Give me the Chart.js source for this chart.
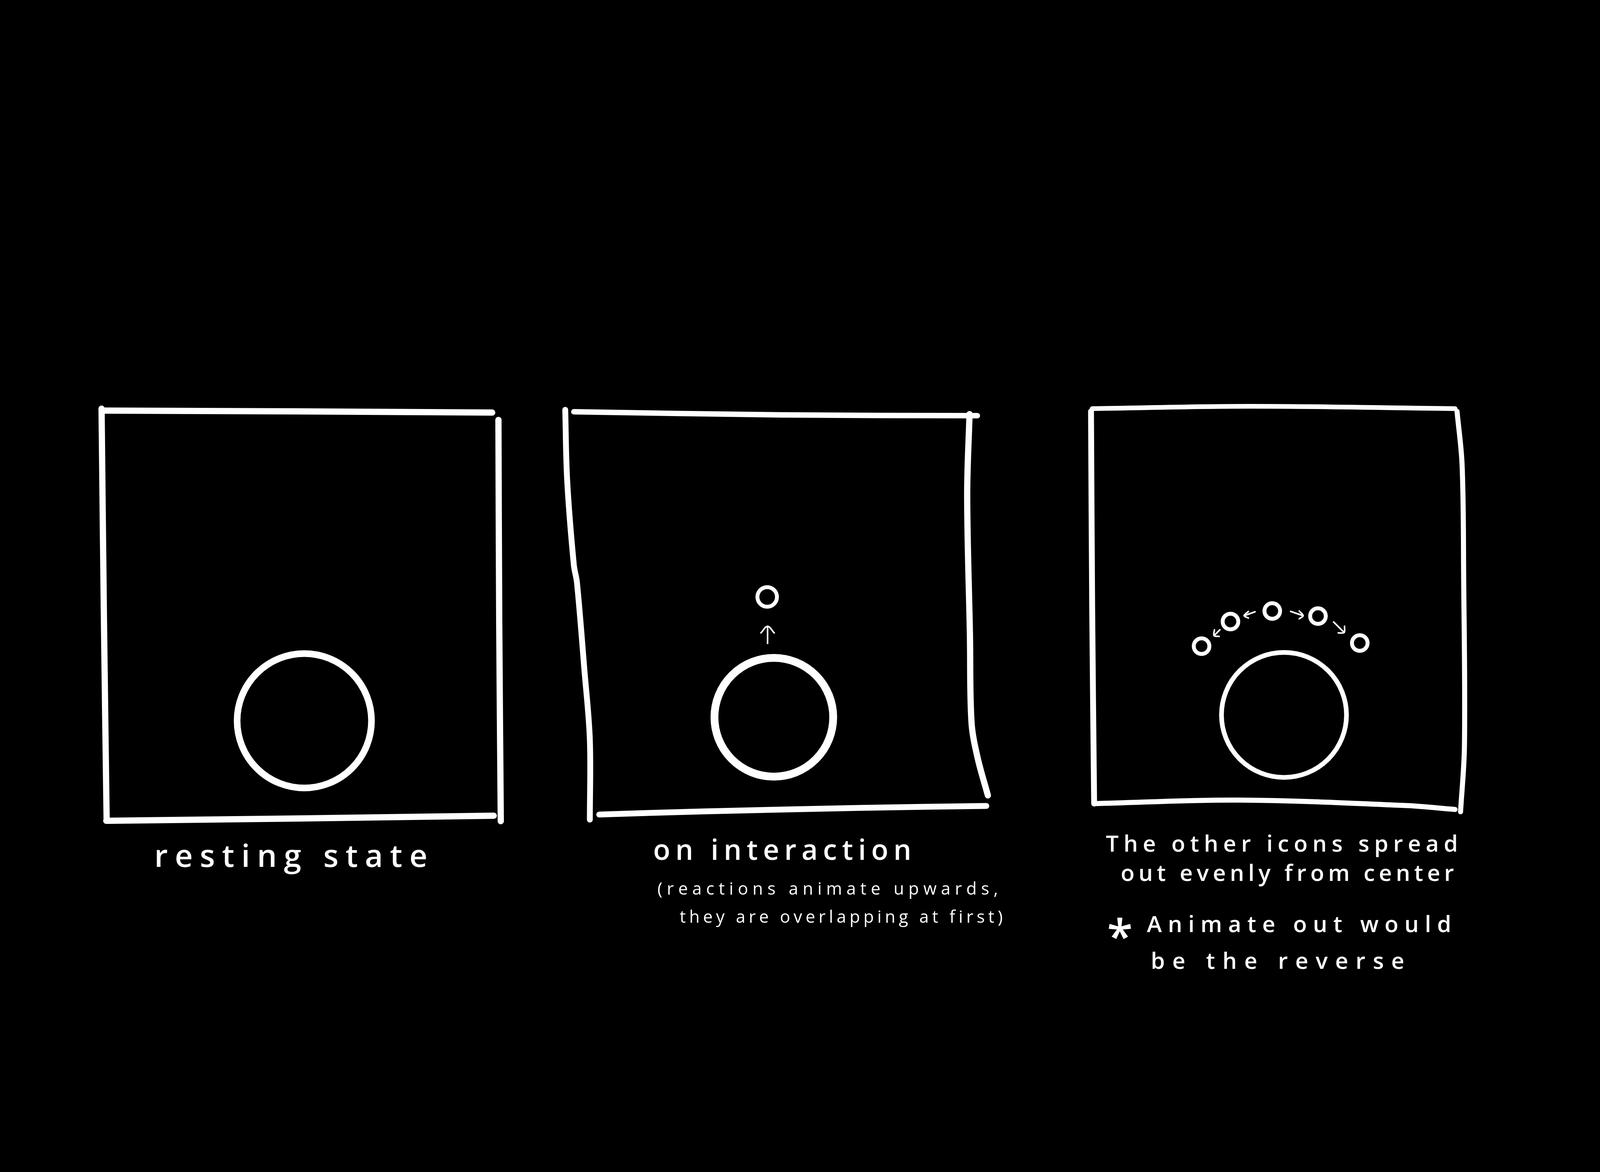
<!DOCTYPE html>
<html>
<head>
<meta charset="utf-8">
<script src="https://cdn.jsdelivr.net/npm/chart.js@4"></script>
<style>
html,body{margin:0;padding:0;background:#000;overflow:hidden;}
canvas{display:block;}
</style>
</head>
<body>
<canvas id="c" width="4200" height="3000"></canvas>
<script>
// ---- stroke data (sketch coordinates) ----
const box1Left   = [[260,1046],[266,1580],[273,2100]];
const box1Top    = [[269,1051],[760,1053],[1260,1056]];
const box1Right  = [[1276,1075],[1278,1590],[1282,2102]];
const box1Bottom = [[272,2101],[770,2095],[1264,2088]];

const box2Left   = [[1447,1049],[1452,1230],[1469,1446],[1477,1491],[1496,1714],[1510,1893],[1510,2098]];
const box2Top    = [[1469,1054],[2000,1062],[2502,1064]];
const box2Right  = [[2482,1060],[2476,1268],[2483,1625],[2487,1848],[2502,1937],[2529,2036]];
const box2Bottom = [[1534,2085],[1800,2077],[2200,2068],[2525,2063]];

const box3Left   = [[2793,1053],[2796,1560],[2801,2057]];
const box3Top    = [[2796,1046],[3200,1040],[3725,1046]];
const box3Right  = [[3730,1053],[3743,1191],[3747,1478],[3749,1909],[3739,2078]];
const box3Bottom = [[2801,2057],[3171,2048],[3600,2062],[3725,2072]];

const bigCircles   = [[779,1845],[1981,1836],[3287,1830]];
const riseCircle   = [[1964,1528]];
const spreadCircles = [[3076,1654],[3150,1591],[3257,1564],[3374,1577],[3481,1646]];

const arrowUpShaft = [[1965,1647],[1965,1606]];
const arrowUpHead  = [[1948,1620],[1965,1603],[1982,1620]];
const arrowA = [[3123,1612],[3108,1627]];
const arrowAHead = [[3109,1612],[3108,1627],[3121,1629]];
const arrowB = [[3213,1566],[3185,1576]];
const arrowBHead = [[3196,1565],[3185,1576],[3196,1582]];
const arrowC = [[3304,1565],[3336,1576]];
const arrowCHead = [[3326,1564],[3336,1576],[3326,1584]];
const arrowD = [[3414,1592],[3441,1619]];
const arrowDHead = [[3442,1603],[3441,1619],[3426,1620]];

const labelTexts = [
  "resting state",
  "on interaction",
  "(reactions animate upwards,",
  "they are overlapping at first)",
  "The other icons spread",
  "out evenly from center",
  "*",
  "Animate out would",
  "be the reverse"
];

// ---- layout of labels (left x, right x, baseline y, font size, weight) ----
const labelLayout = [
  {l:395,  r:1094, y:2219, s:80, w:600},
  {l:1672, r:2333, y:2201, s:72, w:600},
  {l:1683, r:2555, y:2290, s:44, w:500},
  {l:1740, r:2567, y:2362, s:44, w:500},
  {l:2831, r:3732, y:2180, s:58, w:600},
  {l:2869, r:3722, y:2255, s:58, w:600},
  {l:2834, r:2880, y:2440, s:120, w:600},
  {l:2936, r:3715, y:2386, s:58, w:600},
  {l:2946, r:3595, y:2480, s:58, w:600}
];

const toPts = a => a.map(([x,y]) => ({x, y}));
const stroke = (pts, w) => ({
  type:'line', data: toPts(pts), borderColor:'#ffffff', borderWidth:w,
  pointRadius:0, fill:false, tension:0.35, borderCapStyle:'round',
  borderJoinStyle:'round', showLine:true
});
const rings = (pts, r, w) => ({
  type:'scatter', data: toPts(pts), showLine:false,
  pointRadius:r, pointHoverRadius:r, pointBorderWidth:w,
  pointBackgroundColor:'rgba(0,0,0,0)', pointBorderColor:'#ffffff'
});

const datasets = [
  stroke(box1Left,16), stroke(box1Top,16), stroke(box1Right,16), stroke(box1Bottom,16),
  stroke(box2Left,15), stroke(box2Top,14), stroke(box2Right,16), stroke(box2Bottom,15),
  stroke(box3Left,15), stroke(box3Top,12), stroke(box3Right,13), stroke(box3Bottom,13),
  rings(bigCircles.slice(0,1),172,17),
  rings(bigCircles.slice(1,2),152,20),
  rings(bigCircles.slice(2,3),160,12),
  rings(riseCircle,25,10),
  rings(spreadCircles,20,10),
  stroke(arrowUpShaft,4), stroke(arrowUpHead,4),
  stroke(arrowA,4), stroke(arrowAHead,4),
  stroke(arrowB,4), stroke(arrowBHead,4),
  stroke(arrowC,4), stroke(arrowCHead,4),
  stroke(arrowD,4), stroke(arrowDHead,4)
];

const bgPlugin = {
  id:'bg',
  beforeDraw(chart){
    const ctx = chart.ctx;
    ctx.save(); ctx.fillStyle='#000'; ctx.fillRect(0,0,chart.width,chart.height); ctx.restore();
  }
};

const textPlugin = {
  id:'texts',
  afterDatasetsDraw(chart){
    const ctx = chart.ctx, xs = chart.scales.x, ys = chart.scales.y;
    ctx.save();
    ctx.fillStyle = '#ffffff';
    ctx.textBaseline = 'alphabetic';
    ctx.textAlign = 'left';
    labelTexts.forEach((t, i) => {
      const L = labelLayout[i];
      ctx.font = L.w + ' ' + L.s + 'px "Open Sans", "DejaVu Sans", sans-serif';
      ctx.letterSpacing = '0px';
      const natural = ctx.measureText(t).width;
      const x0 = xs.getPixelForValue(L.l), x1 = xs.getPixelForValue(L.r);
      const sp = t.length > 1 ? Math.max(0, (x1 - x0 - natural) / (t.length - 1)) : 0;
      ctx.letterSpacing = sp + 'px';
      ctx.fillText(t, x0, ys.getPixelForValue(L.y));
    });
    ctx.restore();
  }
};

new Chart(document.getElementById('c'), {
  type:'scatter',
  data:{datasets},
  options:{
    responsive:false, devicePixelRatio:1, animation:false,
    layout:{padding:0, autoPadding:false},
    plugins:{legend:{display:false}, tooltip:{enabled:false}},
    events:[],
    scales:{
      x:{type:'linear', min:0, max:4200, display:false},
      y:{type:'linear', min:0, max:3000, reverse:true, display:false}
    }
  },
  plugins:[bgPlugin, textPlugin]
});
</script>
</body>
</html>
